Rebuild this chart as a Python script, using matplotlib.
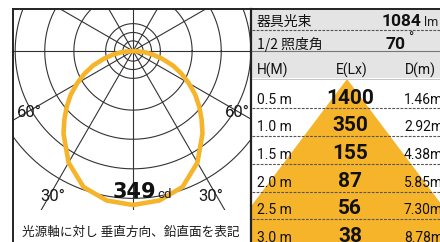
import numpy as np
import matplotlib
matplotlib.use('Agg')
import matplotlib.pyplot as plt
from matplotlib.patches import Rectangle, Polygon

# light distribution (symmetric), angle from nadir [deg] -> intensity [cd]
angles = [0, 10, 20, 30, 40, 45, 50, 55, 60, 65, 70, 75, 80, 85, 90]
intensity = [349, 344, 328, 292, 245, 220, 196, 172, 146, 121, 96, 69, 45, 23, 0]
peak_cd = 349

# polar grid
ring_radii = [23, 42, 62, 134, 200, 267, 334]
ray_step = 30

# table
heights = ['0.5 m', '1.0 m', '1.5 m', '2.0 m', '2.5 m', '3.0 m']
lux = ['1400', '350', '155', '87', '56', '38']
diam = ['1.46m', '2.92m', '4.38m', '5.85m', '7.30m', '8.78m']
flux = '1084'
half_angle = '70'
beam_half = 37  # half angle of the drawn cone, deg

ORANGE = '#f6b42a'
GRID = '#333333'
GRAY = '#e4e4e4'
JP = ['Noto Sans CJK JP', 'DejaVu Sans']
LAT = ['Roboto', 'Noto Sans CJK JP', 'DejaVu Sans']

W, H = 440, 242
fig = plt.figure(figsize=(W / 100, H / 100), dpi=100)

# ---- polar panel (cartesian axes in cd units, equal scale) ----
cx, cy = 133, 51          # pixel position of the light source
scale = 154 / peak_cd     # px per cd
left, right, top, bottom = 13, 250, 9, 242
axp = fig.add_axes([left / W, (H - bottom) / H, (right - left) / W, (bottom - top) / H])
axp.set_xlim((left - cx) / scale, (right - cx) / scale)
axp.set_ylim(-(bottom - cy) / scale, (cy - top) / scale)
axp.axis('off')

t = np.linspace(0, 2 * np.pi, 400)
for r in ring_radii:
    axp.plot(r * np.cos(t), r * np.sin(t), color=GRID, lw=0.8)
for a in range(0, 360, ray_step):
    ra = np.deg2rad(a)
    axp.plot([0, 900 * np.cos(ra)], [0, 900 * np.sin(ra)], color=GRID, lw=0.8)

th = np.deg2rad(np.array(angles))
I = np.array(intensity)
full_th = np.concatenate([-th[::-1], th[1:]])
full_I = np.concatenate([I[::-1], I[1:]])
axp.plot(full_I * np.sin(full_th), -full_I * np.cos(full_th), color=ORANGE, lw=3.3,
         solid_capstyle='round', solid_joinstyle='round', zorder=3)

# ---- overlay in pixel coordinates ----
ax = fig.add_axes([0, 0, 1, 1])
ax.set_xlim(0, W)
ax.set_ylim(H, 0)
ax.axis('off')
ax.patch.set_alpha(0)

# white band for the note under the diagram
ax.add_patch(Rectangle((14, 210), 235, 40, facecolor='white', edgecolor='none', zorder=1))
ax.text(131, 232, '光源軸に対し 垂直方向、鉛直面を表記', family=JP, fontsize=9.1,
        ha='center', va='center', color='#1a1a1a', zorder=2)

for x, y, s in [(29, 112.5, '60°'), (237, 112.5, '60°'), (53, 196.5, '30°'), (211, 196.5, '30°')]:
    ax.text(x, y, s, family=LAT, fontsize=12, ha='center', va='center',
            color='#1a1a1a', zorder=2)
ax.text(156, 198, str(peak_cd), family='DejaVu Sans', fontsize=15, fontweight='bold',
        ha='right', va='baseline', color='#111', zorder=2)
ax.text(157, 198, 'cd', family=LAT, fontsize=9.5, ha='left', va='baseline', color='#1a1a1a', zorder=2)

# ---- table panel ----
tx0, tx1 = 252, 440
ax.add_patch(Rectangle((tx0, 9.5), tx1 - tx0, 41, facecolor=GRAY, edgecolor='none', zorder=1))
ax.add_patch(Rectangle((tx0, 52), tx1 - tx0, 26, facecolor=GRAY, edgecolor='none', zorder=1))
ax.plot([tx0, tx1], [29.8, 29.8], color='#555', lw=0.8, ls=(0, (2.5, 1.2)), zorder=2)
ax.plot([tx0, tx1], [51.2, 51.2], color='#777', lw=0.8, zorder=2)
ax.plot([tx0, tx1], [78.5, 78.5], color='#bbb', lw=0.6, zorder=2)

ax.text(257, 26, '器具光束', family=JP, fontsize=10, ha='left', va='baseline', color='#111', zorder=3)
ax.text(421, 26.5, flux, family=LAT, fontsize=12.5, fontweight='bold', ha='right', va='baseline',
        color='#111', zorder=3)
ax.text(424, 26.5, 'lm', family=LAT, fontsize=9, ha='left', va='baseline',
        color='#1a1a1a', zorder=3)
ax.text(257, 48.5, '1/2 照度角', family=JP, fontsize=10, ha='left', va='baseline', color='#111', zorder=3)
ax.text(406, 49, half_angle, family=LAT, fontsize=12.5, fontweight='bold', ha='right', va='baseline',
        color='#111', zorder=3)
ax.text(408, 43, '°', family=LAT, fontsize=10, ha='left', va='baseline',
        color='#1a1a1a', zorder=3)

ax.text(257, 75, 'H(M)', family=LAT, fontsize=10, ha='left', va='baseline', color='#111', zorder=3)
ax.text(352, 75, 'E(Lx)', family=LAT, fontsize=10, ha='center', va='baseline', color='#111', zorder=3)
ax.text(405, 75, 'D(m)', family=LAT, fontsize=10, ha='left', va='baseline', color='#111', zorder=3)

# cone behind the rows
apex_x, apex_y = 347, 79
depth = 300
tan_b = np.tan(np.deg2rad(beam_half))
cone = Polygon([(apex_x, apex_y), (apex_x - depth * tan_b, apex_y + depth),
                (apex_x + depth * tan_b, apex_y + depth)], closed=True,
               facecolor=ORANGE, edgecolor='none', zorder=1)
ax.add_patch(cone)
clip = Rectangle((tx0, apex_y), tx1 - tx0, H - apex_y, transform=ax.transData)
cone.set_clip_path(clip)

row0, pitch = 80.5, 27.75
for i in range(len(heights)):
    top_y = row0 + pitch * i
    if i > 0:
        ax.plot([tx0, tx1], [top_y, top_y], color='#555', lw=0.8, ls=(0, (2.5, 1.2)), zorder=2)
    base = top_y + 23
    ax.text(257, base, heights[i], family=LAT, fontsize=10, ha='left',
            va='baseline', color='#111', zorder=3)
    ax.text(350, base, lux[i], family=LAT, fontsize=15, fontweight='bold', ha='center',
            va='baseline', color='#111', zorder=3)
    ax.text(404, base, diam[i], family=LAT, fontsize=10, ha='left',
            va='baseline', color='#111', zorder=3)

# frame lines
ax.plot([13, W], [9.3, 9.3], color='#222', lw=1.4, zorder=4)
ax.plot([13.3, 13.3], [9, H], color='#222', lw=1.4, zorder=4)
ax.plot([250.5, 250.5], [9, H], color='#222', lw=1.6, zorder=4)

fig.savefig('out.png', dpi=100)
